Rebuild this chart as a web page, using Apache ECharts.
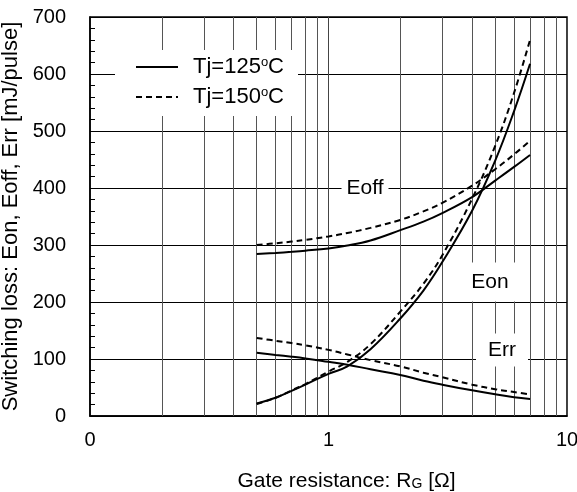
<!DOCTYPE html>
<html>
<head>
<meta charset="utf-8">
<script src="https://cdn.jsdelivr.net/npm/echarts@6/dist/echarts.min.js"></script>
<style>
html,body{margin:0;padding:0;background:#fff;}
#chart{width:577px;height:492px;}
</style>
</head>
<body>
<div id="chart"></div>
<script>
// Gate resistance values (ohm)
var rG = [0.5, 0.6, 0.7, 0.8, 1, 1.2, 1.5, 2, 2.5, 3, 4, 5, 6, 7];
var eon125  = [22, 32, 44, 55, 74, 87, 117, 171, 220, 270, 360, 448, 535, 618];
var eon150  = [21, 32, 45, 56, 78, 95, 126, 183, 232, 282, 381, 474, 567, 660];
var eoff125 = [284, 286, 288, 290, 294, 299, 308, 326, 341, 356, 384, 413, 437, 458];
var eoff150 = [300, 303, 306, 309, 315, 321, 330, 344, 359, 374, 404, 433, 459, 483];
var err125  = [111, 107, 104, 101, 95, 90, 82, 72, 62, 55, 45, 38, 33, 30];
var err150  = [137, 132, 128, 124, 116, 108, 98, 87, 76, 68, 55, 47, 42, 38];
var minorGridX = [0.2, 0.3, 0.4, 0.5, 0.6, 0.7, 0.8, 0.9, 2, 3, 4, 5, 6, 7, 8, 9];
var legendNames = ['Tj=125ºC', 'Tj=150ºC'];

var FONT = 'Liberation Sans, Arial, sans-serif';

function pairs(ys) { return rG.map(function (x, i) { return [x, ys[i]]; }); }

function mk(name, ys, dashed, extra) {
  var s = {
    name: name, type: 'line', data: pairs(ys), smooth: 0.4, symbol: 'none',
    lineStyle: { color: '#000', width: 2, type: dashed ? [6, 4] : 'solid' },
    itemStyle: { color: '#000' }, z: 3
  };
  if (extra) Object.assign(s, extra);
  return s;
}

var chart = echarts.init(document.getElementById('chart'), null, { renderer: 'canvas' });
var option = {
  animation: false,
  backgroundColor: '#fff',
  grid: { left: 90, top: 17, right: 10, bottom: 76, show: true, borderColor: '#000', borderWidth: 1.5, backgroundColor: 'transparent', containLabel: false, outerBoundsMode: 'none' },
  xAxis: {
    type: 'log', logBase: 10, min: 0.1, max: 10,
    axisLine: { show: true, lineStyle: { color: '#000', width: 1.5 } },
    axisTick: { show: false },
    splitLine: { show: true, lineStyle: { color: '#444', width: 1 } },
    axisLabel: {
      color: '#000', fontSize: 20, fontFamily: FONT, margin: 14,
      formatter: function (v) { return v < 0.5 ? '0' : String(Math.round(v)); }
    },
    name: '{a|Gate resistance: R}{b|G}{a| [Ω]}',
    nameLocation: 'middle', nameGap: 55,
    nameTextStyle: {
      padding: [0, 0, 0, 36],
      rich: {
        a: { fontSize: 21, fontFamily: FONT, color: '#000' },
        b: { fontSize: 14, fontFamily: FONT, color: '#000', padding: [5, 0, 0, 0] }
      }
    }
  },
  yAxis: {
    type: 'value', min: 0, max: 700, interval: 100,
    axisLine: { show: true, lineStyle: { color: '#000', width: 1.5 } },
    axisTick: { show: true, inside: true, length: 5, lineStyle: { color: '#000' } },
    minorTick: { show: true, splitNumber: 5, length: 5, lineStyle: { color: '#000' } },
    splitLine: { show: true, lineStyle: { color: '#000', width: 1 } },
    axisLabel: { color: '#000', fontSize: 20, fontFamily: FONT, margin: 24 },
    name: 'Switching loss: Eon, Eoff, Err [mJ/pulse]',
    nameLocation: 'middle', nameGap: 60,
    nameTextStyle: { color: '#000', fontSize: 22, fontFamily: FONT }
  },
  legend: {
    data: legendNames,
    orient: 'vertical', left: 115, top: 50,
    backgroundColor: '#fff',
    padding: [6, 14, 8, 20],
    itemGap: 8, itemWidth: 42, itemHeight: 14,
    selectedMode: false,
    itemStyle: { opacity: 0 },
    textStyle: {
      padding: [0, 0, 0, 10],
      rich: {
        a: { fontSize: 22, fontFamily: FONT, color: '#000' },
        s: { fontSize: 13, fontFamily: FONT, color: '#000', padding: [0, 0, 9, 0] }
      }
    },
    formatter: function (n) {
      var m = n.split('º');
      return '{a|' + m[0] + '}{s|o}{a|' + m[1] + '}';
    },
    z: 10
  },
  series: [
    mk(legendNames[0], eon125, false, {
      markLine: {
        silent: true, symbol: 'none', label: { show: false },
        lineStyle: { color: '#555', width: 1, type: 'solid' },
        data: minorGridX.map(function (v) { return { xAxis: v }; }),
        z: 1
      }
    }),
    mk(legendNames[1], eon150, true),
    mk(legendNames[0], eoff125, false),
    mk(legendNames[1], eoff150, true),
    mk(legendNames[0], err125, false),
    mk(legendNames[1], err150, true)
  ],
  graphic: [
    { type: 'text', z: 100, x: 365, y: 188, style: { text: 'Eoff', x: 0, y: 0, align: 'center', verticalAlign: 'middle', font: '21px ' + FONT, fill: '#000', backgroundColor: '#fff', padding: [3, 5] } },
    { type: 'text', z: 100, x: 490, y: 282, style: { text: 'Eon', x: 0, y: 0, align: 'center', verticalAlign: 'middle', font: '21px ' + FONT, fill: '#000', backgroundColor: '#fff', padding: [9, 8] } },
    { type: 'text', z: 100, x: 502, y: 350, style: { text: 'Err', x: 0, y: 0, align: 'center', verticalAlign: 'middle', font: '21px ' + FONT, fill: '#000', backgroundColor: '#fff', padding: [6, 12] } }
  ]
};
chart.setOption(option);
</script>
</body>
</html>
